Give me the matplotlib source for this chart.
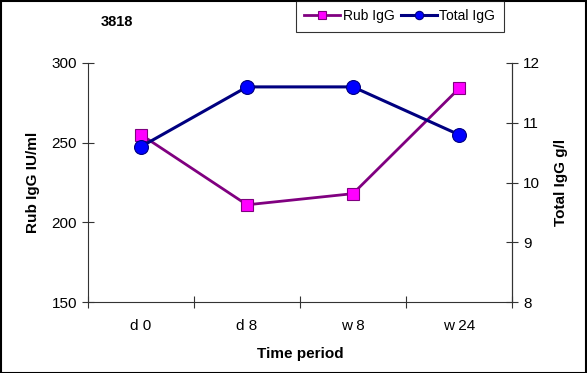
import matplotlib.pyplot as plt
import numpy as np

plt.rcParams['font.family'] = ['Liberation Sans', 'DejaVu Sans']

# categorias y valores
periods = ['d 0', 'd 8', 'w 8', 'w 24']
rub_igg = [255, 211, 218, 284]
total_igg = [10.6, 11.6, 11.6, 10.8]

x = np.arange(len(periods))

fig = plt.figure(figsize=(5.87, 3.73), dpi=100)
ax = fig.add_axes([88/587, 1-302/373, (512-88)/587, (302-63)/373])
ax2 = ax.twinx()

l1, = ax.plot(x, rub_igg, color='#800080', lw=2, marker='s', ms=9,
              mfc='#FF00FF', mec='#800080', mew=0.8, label='Rub IgG')
l2, = ax2.plot(x, total_igg, color='#000080', lw=2.2, marker='o', ms=10,
               mfc='#0000FF', mec='#000080', mew=0.8, label='Total IgG')

ax.set_xlim(-0.5, 3.5)
ax.set_ylim(150, 300)
ax.set_yticks([150, 200, 250, 300])
ax2.set_ylim(8, 12)
ax2.set_yticks([8, 9, 10, 11, 12])

ax.set_xticks(np.arange(-0.5, 4, 1))
ax.set_xticklabels([])
ax.set_xticks(x, minor=True)
ax.set_xticklabels(periods, minor=True)
ax.tick_params(axis='x', which='major', direction='inout', length=8, color='#333333')
ax.tick_params(axis='x', which='minor', length=0, pad=12, labelsize=11)
ax.tick_params(axis='y', direction='inout', length=8, labelsize=11, pad=4, color='#333333')
ax2.tick_params(axis='y', direction='inout', length=8, labelsize=11, pad=4, color='#333333')

for a in (ax, ax2):
    a.spines['top'].set_visible(False)
    for s in ['left', 'right', 'bottom']:
        a.spines[s].set_color('#333333')
ax2.spines['left'].set_visible(False)
ax2.spines['bottom'].set_visible(False)

ax.set_ylabel('Rub IgG IU/ml', fontweight='bold', fontsize=11, labelpad=8)
ax2.set_ylabel('Total IgG g/l', fontweight='bold', fontsize=11, labelpad=10)
ax.set_xlabel('Time period', fontweight='bold', fontsize=11, labelpad=10)

fig.text(117/587, 1-22/373, '3818', fontweight='bold', fontsize=10.5, va='center', ha='center')

leg = fig.legend([l1, l2], ['Rub IgG', 'Total IgG'], ncol=2, loc='upper left',
                 bbox_to_anchor=(296/587, 1-1/373), fontsize=10, frameon=True,
                 fancybox=False, edgecolor='black', borderpad=0.6, handlelength=2.6,
                 columnspacing=0.4, handletextpad=0.2, borderaxespad=0,
                 markerscale=0.6)
leg.get_frame().set_linewidth(0.8)

fig.patches.append(plt.Rectangle((0.001, 0.001), 0.997, 0.996, transform=fig.transFigure,
                                 fill=False, edgecolor='black', lw=1.5))

fig.savefig('out.png', dpi=100)
